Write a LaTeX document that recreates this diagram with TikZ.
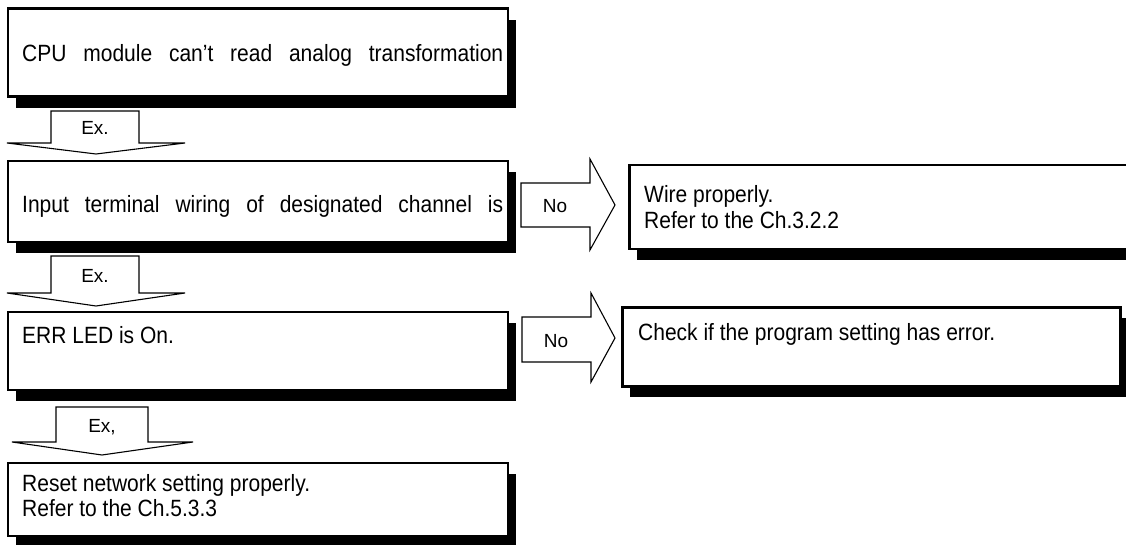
\documentclass[tikz,border=0pt]{standalone}
\usepackage{fontspec}
\usepackage{graphicx}
\setmainfont{Liberation Sans}
\usetikzlibrary{shadows}
\newcommand{\jline}[2]{\hbox to #1{\spaceskip=0.28em plus 1fil\relax #2}}
\newcommand{\tallt}[1]{\scalebox{1}[1.12]{#1}}
\newcommand{\twol}[3]{\fontsize{21}{#1}\selectfont\tallt{\begin{tabular}{@{}l@{}}#2\\#3\end{tabular}}}
\tikzset{
  box/.style={draw=black, line width=2.4pt, fill=white, inner sep=0pt, anchor=north west,
    drop shadow={shadow xshift=8pt, shadow yshift=-11pt, fill=black, opacity=1}},
  blk/.style={draw=black, line width=1.1pt, fill=white, line join=miter},
  lbl/.style={font=\fontsize{19}{22}\selectfont, inner sep=0pt},
  txt/.style={font=\fontsize{21}{26}\selectfont, inner sep=0pt, anchor=west, align=left},
}
\begin{document}
\begin{tikzpicture}[x=1pt,y=-1pt]
\useasboundingbox[fill=white] (0,0) rectangle (1126,545);
% boxes
\node[box, minimum width=500pt, minimum height=88pt] (b1) at (6.5,7.5) {};
\node[box, minimum width=500pt, minimum height=81pt] (b2) at (6.5,160) {};
\node[box, minimum width=500pt, minimum height=78pt] (b3) at (6.5,311) {};
\node[box, minimum width=500pt, minimum height=73pt] (b4) at (6.5,462) {};
\node[box, minimum width=520pt, minimum height=84pt] (bw) at (628.2,164) {};
\node[box, minimum width=498pt, minimum height=79pt] (bc) at (621.2,306.2) {};
% texts
\node[txt] (t1) at (22,55) {\tallt{\jline{481pt}{CPU module can’t read analog transformation}}};
\node[txt] (t2) at (22,206) {\tallt{\jline{481pt}{Input terminal wiring of designated channel is}}};
\node[txt] (t3) at (22,335) {\tallt{ERR LED is On.}};
\node[txt] (t4) at (22,499) {\twol{21.5}{Reset network setting properly.}{Refer to the Ch.5.3.3}};
\node[txt] (tw) at (644,210) {\twol{23}{Wire properly.}{Refer to the Ch.3.2.2}};
\node[txt] (tc) at (638,334) {\tallt{Check if the program setting has error.}};
% Ex. arrows
\draw[blk] (51,111) -- (139,111) -- (139,143) -- (185,143) -- (96,154) -- (7,143) -- (51,143) -- cycle;
\node[lbl] (e1) at (95,128) {Ex.};
\draw[blk] (51,256) -- (139,256) -- (139,293) -- (185,293) -- (96,306) -- (7,293) -- (51,293) -- cycle;
\node[lbl] (e2) at (95,276) {Ex.};
\draw[blk] (56,407) -- (148,407) -- (148,442) -- (193,442) -- (102,455) -- (12,442) -- (56,442) -- cycle;
\node[lbl] (e3) at (102,427) {Ex,};
% No arrows
\draw[blk] (521,183) -- (590,183) -- (590,159) -- (615,205) -- (590,250) -- (590,227) -- (521,227) -- cycle;
\node[lbl] (n1) at (555,206) {No};
\draw[blk] (522,317) -- (591,317) -- (591,293) -- (615,338) -- (591,382) -- (591,362) -- (522,362) -- cycle;
\node[lbl] (n2) at (556,341) {No};
\end{tikzpicture}
\end{document}
